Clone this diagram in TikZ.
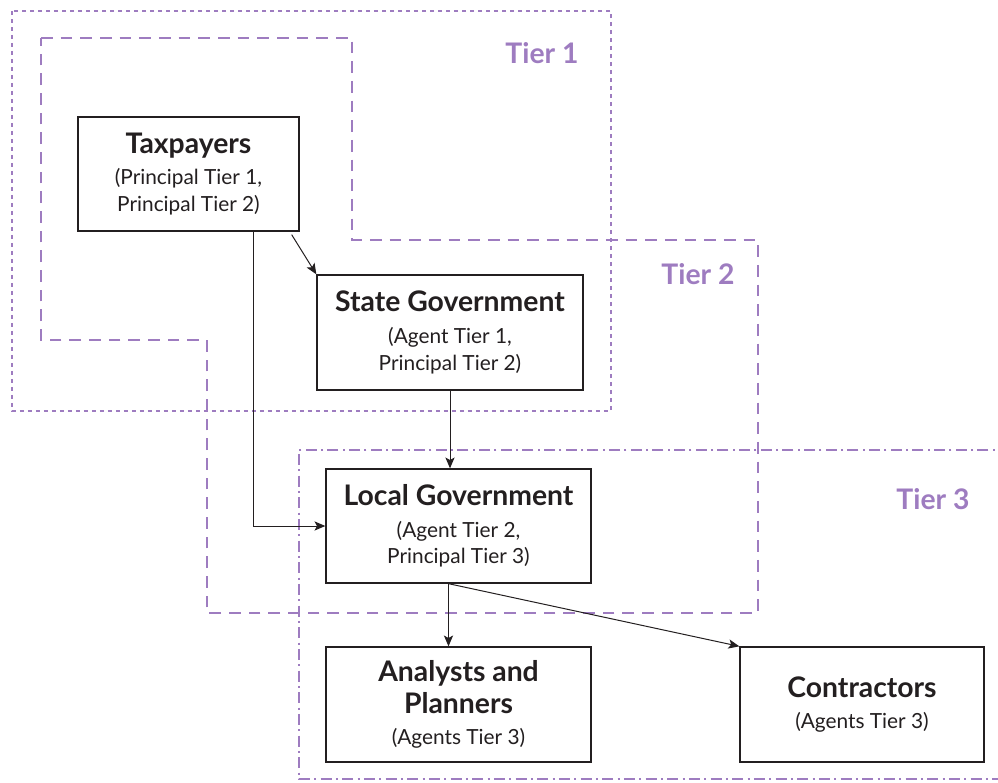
\documentclass[tikz,border=0pt]{standalone}
\usepackage{fontspec}
\setmainfont{Lato}
\usetikzlibrary{arrows.meta}
\definecolor{tierpurple}{RGB}{158,124,192}
\definecolor{inkgray}{RGB}{35,31,32}
\newcommand{\agenttitle}[1]{{\fontsize{17}{20}\selectfont\bfseries #1}}

\begin{document}
\begin{tikzpicture}[
    x=0.6pt, y=-0.6pt,
    agentbox/.style={draw=inkgray, line width=0.8pt, fill=white, align=center, inner sep=0pt,
        text=inkgray, font=\fontsize{12.5}{16}\selectfont},
    link/.style={draw=inkgray, line width=0.6pt, -{Stealth[length=6.5pt,width=5.5pt,inset=1.5pt]}},
    tierlabel/.style={text=tierpurple, font=\fontsize{17}{20}\selectfont\bfseries},
    tierone/.style={draw=tierpurple, line width=1.3pt, dash pattern=on 2.4pt off 2.4pt},
    tiertwo/.style={draw=tierpurple, line width=1.3pt, dash pattern=on 7pt off 4.8pt},
    tierthree/.style={draw=tierpurple, line width=1.3pt, dash pattern=on 6.6pt off 2.6pt on 1.2pt off 2.6pt}
]
\useasboundingbox (0,0) rectangle (998,783);

\draw[tierone] (12,11) rectangle (611,411);
\draw[tiertwo] (41,38) -- (352,38) -- (352,240) -- (758,240) -- (758,613)
    -- (207,613) -- (207,340) -- (41,340) -- cycle;
\draw[tierthree] (1010,450) -- (299,450) -- (299,779) -- (1010,779);

\node[tierlabel] (tier1) at (542,53) {Tier 1};
\node[tierlabel] (tier2) at (698,274) {Tier 2};
\node[tierlabel] (tier3) at (933,499) {Tier 3};

\node[agentbox, minimum width=132.6pt, minimum height=68.4pt] (taxpayers) at (188.5,174)
    {\agenttitle{Taxpayers}\\[3pt](Principal Tier 1,\\Principal Tier 2)};
\node[agentbox, minimum width=159.6pt, minimum height=69pt] (stategov) at (450,332.5)
    {\agenttitle{State Government}\\[3pt](Agent Tier 1,\\Principal Tier 2)};
\node[agentbox, minimum width=159pt, minimum height=68.4pt] (localgov) at (458.5,526)
    {\agenttitle{Local Government}\\[3pt](Agent Tier 2,\\Principal Tier 3)};
\node[agentbox, minimum width=159pt, minimum height=69pt] (analysts) at (458.5,704.5)
    {\agenttitle{Analysts and}\\[3pt]\agenttitle{Planners}\\[3pt](Agents Tier 3)};
\node[agentbox, minimum width=146.4pt, minimum height=69pt] (contractors) at (862,704.5)
    {\agenttitle{Contractors}\\[3pt](Agents Tier 3)};

\draw[link] (taxpayers.south east) ++(-8,3) -- (stategov.north west);
\draw[link] (taxpayers.south) ++(64.5,0) |- (localgov.west);
\draw[link] (stategov.south) -- (stategov.south |- localgov.north);
\coordinate (localout) at ([xshift=-6pt]localgov.south);
\draw[link] (localout) -- (localout |- analysts.north);
\draw[link] (localout) -- (contractors.north west);
\end{tikzpicture}
\end{document}
